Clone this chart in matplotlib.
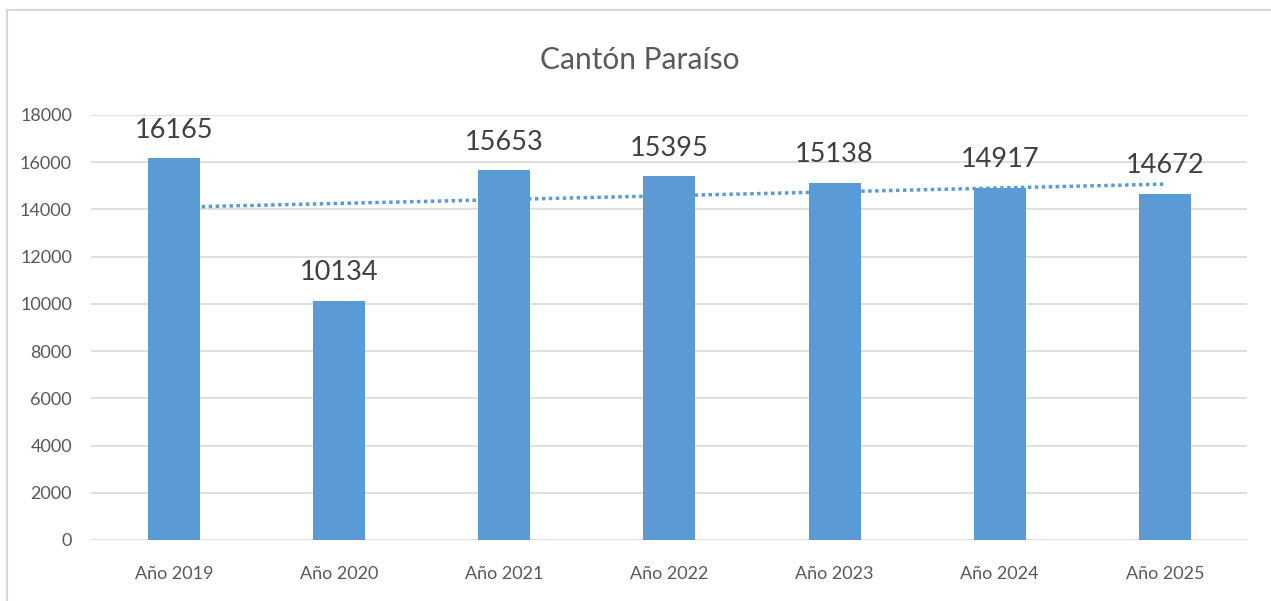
import numpy as np
import matplotlib
matplotlib.use("Agg")
import matplotlib.pyplot as plt
from matplotlib.patches import Rectangle

categories = ["Año 2019", "Año 2020", "Año 2021", "Año 2022", "Año 2023", "Año 2024", "Año 2025"]
values = [16165, 10134, 15653, 15395, 15138, 14917, 14672]
yticks = [0, 2000, 4000, 6000, 8000, 10000, 12000, 14000, 16000, 18000]
title = "Cantón Paraíso"

plt.rcParams['font.family'] = ['Lato', 'DejaVu Sans']

bar_color = "#5B9BD5"
text_color = "#595959"
grid_color = "#D9D9D9"

fig = plt.figure(figsize=(12.71, 6.01), dpi=100)
ax = fig.add_axes([0.0719, 0.1015, 0.9095, 0.7072])

x = np.arange(len(categories))
ax.bar(x, values, width=0.315, color=bar_color, zorder=3)

# linear trendline (as Excel computes it)
coef = np.polyfit(x, values, 1)
trend = np.polyval(coef, x)
ax.plot(x, trend, linestyle=(0, (1, 1)), color=bar_color, linewidth=2.5, zorder=2)

for xi, v in zip(x, values):
    ax.annotate(str(v), (xi, v), xytext=(0, 11), textcoords="offset points",
                ha="center", va="bottom", fontsize=19.5, color="#404040")

ax.set_xlim(-0.5, len(categories) - 0.5)
ax.set_ylim(0, 18000)
ax.set_yticks(yticks)
ax.set_yticklabels([str(t) for t in yticks], fontsize=13, color=text_color)
ax.set_xticks(x)
ax.set_xticklabels(categories, fontsize=13, color=text_color)
ax.tick_params(axis="x", length=0, pad=19)
ax.tick_params(axis="y", length=0, pad=14)
ax.grid(axis="y", color=grid_color, linewidth=1.2, zorder=0)
ax.set_axisbelow(True)
for s in ax.spines.values():
    s.set_visible(False)

fig.text(0.503, 0.900, title, ha="center", va="center", fontsize=21.5, color=text_color)

# chart border
fig.patches.append(Rectangle((7 / 1271, -0.05), 1.1, 1 - 10 / 601 + 0.05,
                             transform=fig.transFigure, fill=False,
                             edgecolor="#D9D9D9", linewidth=1.5))

fig.savefig("out.png", dpi=100)
